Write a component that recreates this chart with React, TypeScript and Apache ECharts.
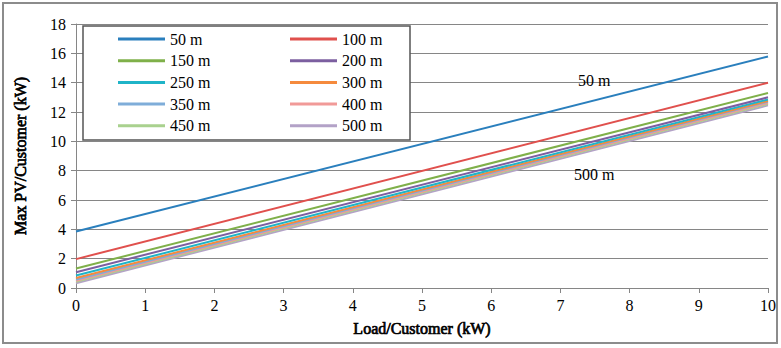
import React, { useEffect, useRef } from "react";
import * as echarts from "echarts";

const xValues = [0, 10];
const seriesNames = ["50 m", "100 m", "150 m", "200 m", "250 m", "300 m", "350 m", "400 m", "450 m", "500 m"];
const at0 = [3.85, 1.97, 1.33, 1.08, 0.85, 0.68, 0.58, 0.5, 0.42, 0.33];
const at10 = [15.78, 14.0, 13.3, 13.0, 12.85, 12.75, 12.7, 12.62, 12.55, 12.45];
const colors = ["#2a7fbd", "#e0504d", "#7fb04a", "#7c5fa0", "#1fb4c8", "#f58a3d", "#7fadd9", "#f19a98", "#a9d18e", "#b3a2c7"];

export default function App() {
  const ref = useRef<HTMLDivElement>(null);
  useEffect(() => {
    const chart = echarts.init(ref.current!, null, { renderer: "svg" });
    const font = "Liberation Serif";
    const series = seriesNames.map((name, i) => ({
      name,
      type: "line",
      data: xValues.map((x, j) => [x, j === 0 ? at0[i] : at10[i]]),
      showSymbol: false,
      symbol: "none",
      lineStyle: { color: colors[i], width: 2 },
      itemStyle: { color: colors[i] },
      z: 10 - i,
    }));
    const legendCommon = {
      orient: "vertical",
      top: 31,
      z: 30,
      itemWidth: 47,
      itemHeight: 3,
      itemGap: 5.7,
      icon: "rect",
      textStyle: { fontFamily: font, fontSize: 16, color: "#000" },
      padding: 0,
      selectedMode: false,
    };
    const titleStyle = {
      fontFamily: font,
      fontSize: 16,
      color: "#000",
      textBorderColor: "#000",
      textBorderWidth: 0.7,
    };
    chart.setOption({
      animation: false,
      backgroundColor: "#fff",
      textStyle: { fontFamily: font },
      grid: { left: 76, right: 13, top: 24, bottom: 60 },
      xAxis: {
        type: "value",
        min: 0,
        max: 10,
        interval: 1,
        name: "Load/Customer (kW)",
        nameLocation: "middle",
        nameGap: 32,
        nameTextStyle: titleStyle,
        axisLine: { show: true, lineStyle: { color: "#868686", width: 1 } },
        axisTick: { show: true, length: 5, lineStyle: { color: "#868686" } },
        axisLabel: { fontFamily: font, fontSize: 16, color: "#000", margin: 9 },
        splitLine: { show: false },
      },
      yAxis: {
        type: "value",
        min: 0,
        max: 18,
        interval: 2,
        name: "Max PV/Customer (kW)",
        nameLocation: "middle",
        nameGap: 48,
        nameRotate: 90,
        nameTextStyle: titleStyle,
        axisLine: { show: true, lineStyle: { color: "#868686", width: 1 } },
        axisTick: { show: true, length: 5, inside: false, lineStyle: { color: "#868686" } },
        axisLabel: { fontFamily: font, fontSize: 16, color: "#000", margin: 10 },
        splitLine: { show: true, lineStyle: { color: "#868686", width: 1 } },
      },
      legend: [
        { ...legendCommon, left: 118, data: seriesNames.filter((_, i) => i % 2 === 0) },
        { ...legendCommon, left: 290, data: seriesNames.filter((_, i) => i % 2 === 1) },
      ],
      graphic: [
        {
          type: "rect",
          shape: { x: 3, y: 3, width: 774, height: 340 },
          style: { fill: "none", stroke: "#8c8c8c", lineWidth: 2 },
          silent: true,
          z: 1,
        },
        {
          type: "rect",
          shape: { x: 83, y: 26, width: 327, height: 114 },
          style: { fill: "#fff", stroke: "#555", lineWidth: 1.5 },
          z: 1,
          silent: true,
        },
        {
          type: "text",
          x: 578,
          y: 72,
          style: { text: "50 m", fontFamily: font, fontSize: 16, fill: "#000" },
          z: 20,
        },
        {
          type: "text",
          x: 574,
          y: 166,
          style: { text: "500 m", fontFamily: font, fontSize: 16, fill: "#000" },
          z: 20,
        },
      ],
      series,
    });
    return () => chart.dispose();
  }, []);
  return (
    <div
      ref={ref}
      style={{ position: "fixed", left: 0, top: 0, width: 781, height: 348 }}
    />
  );
}
